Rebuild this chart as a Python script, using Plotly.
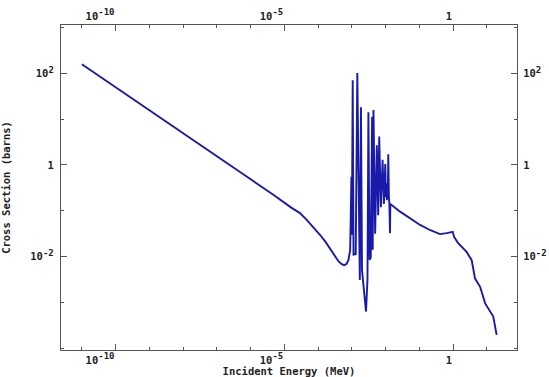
import plotly.graph_objects as go

# Incident energy (MeV) and cross section (barns)
energy_mev = [
    1.0e-11, 1.0e-9, 1.0e-7, 1.0e-6, 4.7e-6, 1.6e-5, 2.9e-5, 4.6e-5,
    7.1e-5, 1.15e-4, 1.66e-4, 2.24e-4, 3.0e-4, 4.0e-4, 5.0e-4, 5.9e-4,
    6.9e-4, 7.9e-4, 8.9e-4,
    9.7e-4, 1.0e-3, 1.06e-3, 1.12e-3, 1.30e-3, 1.45e-3, 1.72e-3, 1.86e-3,
    2.0e-3, 2.63e-3, 2.9e-3, 3.09e-3, 3.35e-3, 3.63e-3, 3.98e-3, 4.15e-3,
    4.37e-3, 4.9e-3, 5.5e-3, 6.03e-3, 6.46e-3, 7.24e-3, 8.13e-3, 8.91e-3,
    9.77e-3, 1.02e-2, 1.05e-2, 1.09e-2, 1.13e-2, 1.16e-2, 1.20e-2, 1.25e-2,
    1.29e-2, 1.35e-2, 1.38e-2,
    2.69e-2, 5.4e-2, 0.105, 0.204, 0.407, 0.646, 0.813, 0.977, 1.07, 1.41,
    2.51, 3.55, 4.47, 6.31, 8.91, 11.7, 15.5, 19.5,
]
xs_barns = [
    158, 15.8, 1.58, 0.50, 0.224, 0.117, 0.089, 0.063,
    0.0447, 0.0295, 0.0209, 0.0151, 0.0107, 0.0079, 0.0068, 0.00646,
    0.0069, 0.0083, 0.0138,
    0.55, 0.03, 70.8, 0.011, 0.0112, 102, 0.00309, 18.2,
    0.005, 0.00063, 0.0031, 14.1, 0.0085, 0.0095, 11.2, 0.014,
    15.8, 0.0316, 2.69, 0.0794, 4.17, 0.120, 1.29, 0.141,
    1.05, 0.2, 0.35, 0.17, 0.4, 0.18, 1.70, 0.2,
    0.151, 0.0324, 0.141,
    0.0955, 0.0676, 0.049, 0.038, 0.0309, 0.0324, 0.0331, 0.0347, 0.0269, 0.0195,
    0.0126, 0.00832, 0.00331, 0.00219, 0.00095, 0.00068, 0.00049, 0.000195,
]

SUP = '<sup><span style="font-size:9px">{}</span></sup>'
x_tick_vals = [1e-10, 1e-5, 1]
x_tick_text = ["10" + SUP.format("-10"), "10" + SUP.format("-5"), "1"]
x_minor_vals = [1e-11, 1e-9, 1e-8, 1e-7, 1e-6, 1e-4, 1e-3, 1e-2, 1e-1, 10]
y_tick_vals = [1e2, 1, 1e-2]
y_tick_text = ["10" + SUP.format("2"), "1", "10" + SUP.format("-2")]
y_minor_vals = [1e3, 10, 1e-1, 1e-3, 1e-4]

X_RANGE = [-11.618, 1.893]
Y_RANGE = [-4.04, 3.055]

AX = "#555555"
TICKFONT = dict(family="DejaVu Sans Mono", size=10.5, color="#222222", weight="bold")
TITLEFONT = dict(family="DejaVu Sans Mono", size=10.5, color="#222222", weight="bold")

fig = go.Figure()
fig.add_trace(go.Scatter(
    x=energy_mev, y=xs_barns, mode="lines",
    line=dict(color="#1a1aaa", width=1.9),
    showlegend=False, hoverinfo="skip",
))
# invisible copy so that the top and right axes are drawn
fig.add_trace(go.Scatter(
    x=energy_mev, y=xs_barns, mode="lines", xaxis="x2", yaxis="y2",
    line=dict(color="rgba(0,0,0,0)", width=0),
    showlegend=False, hoverinfo="skip",
))


def axis_common(tickvals, ticktext, minorvals, rng):
    return dict(
        type="log", range=rng, tickmode="array",
        tickvals=tickvals, ticktext=ticktext,
        ticks="inside", ticklen=6, tickwidth=1, tickcolor=AX,
        showline=True, linecolor=AX, linewidth=1.2,
        showgrid=False, zeroline=False, automargin=False,
        minor=dict(tickmode="array", tickvals=minorvals, ticks="inside",
                   ticklen=3, tickwidth=1, tickcolor=AX, showgrid=False),
        tickfont=TICKFONT,
    )


xa = axis_common(x_tick_vals, x_tick_text, x_minor_vals, X_RANGE)
xa.update(ticklabelposition="outside left", mirror=True, ticklabelstandoff=0,
          title=dict(text="Incident Energy (MeV)", font=TITLEFONT, standoff=3))
xa2 = axis_common(x_tick_vals, x_tick_text, x_minor_vals, X_RANGE)
xa2.update(ticklabelposition="outside left", overlaying="x", side="top", anchor="y")

ya = axis_common(y_tick_vals, y_tick_text, y_minor_vals, Y_RANGE)
ya.update(mirror=True, ticklabelstandoff=4,
          title=dict(text="Cross Section (barns)", font=TITLEFONT, standoff=17))
ya2 = axis_common(y_tick_vals, y_tick_text, y_minor_vals, Y_RANGE)
ya2.update(overlaying="y", side="right", anchor="x", ticklabelstandoff=3)

fig.update_layout(
    width=549, height=377,
    margin=dict(l=61, r=32, t=25, b=27),
    paper_bgcolor="white", plot_bgcolor="white",
    xaxis=xa, xaxis2=xa2, yaxis=ya, yaxis2=ya2,
)

fig.write_html("out.html")
